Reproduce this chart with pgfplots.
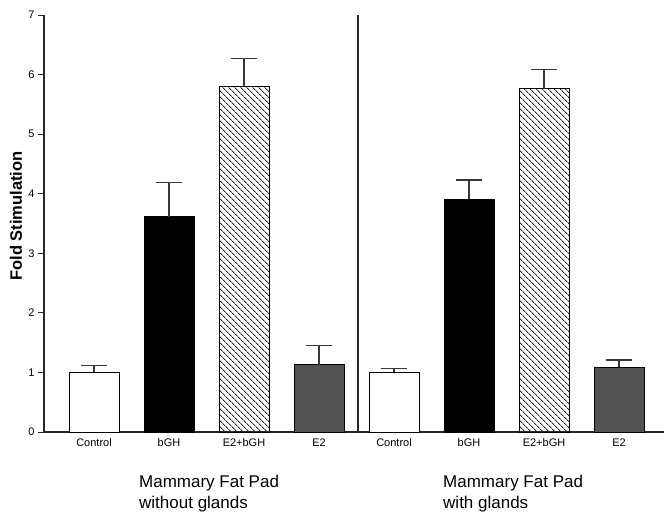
\documentclass[border=0pt]{standalone}
\usepackage{fontspec}
\setmainfont{Liberation Sans}
\usepackage{pgfplots}
\pgfplotsset{compat=1.18}
\usetikzlibrary{patterns.meta}
\definecolor{egray}{RGB}{82,82,82}
\definecolor{errc}{RGB}{55,55,55}
\pgfplotsset{
  mybar/.style={ybar, bar width=0.6667, bar shift=0pt, draw=black, line width=1pt,
    error bars/y dir=plus, error bars/y explicit,
    error bars/error bar style={line width=1.2pt, errc},
    error bars/error mark options={rotate=90, mark size=13pt, line width=1.2pt, errc}},
}
\begin{document}
\begin{tikzpicture}
\path[use as bounding box] (-44pt,-80pt) rectangle (620pt,432pt);
\begin{axis}[
 at={(0pt,0pt)}, anchor=south west,
 scale only axis, width=620pt, height=417pt,
 xmin=0.3333, xmax=8.6, ymin=0, ymax=7,
 axis x line=bottom, axis y line=left,
 axis line style={-, line width=1.1pt, black!85},
 ytick={0,...,7},
 xtick={1,...,8},
 xticklabels={Control,bGH,E2+bGH,E2,Control,bGH,E2+bGH,E2},
 x tick style={draw=none},
 y tick style={line width=1pt, black!85},
 tick align=outside, major tick length=6pt,
 /pgf/number format/assume math mode=true,
 tick label style={font=\fontsize{11}{13}\selectfont},
 xticklabel style={yshift=3pt},
 ylabel={Fold Stimulation},
 ylabel style={font=\fontsize{16.5}{18}\selectfont\bfseries, at={(axis description cs:-0.045,0.518)}, anchor=center},
 clip=false,
]
\addplot[mybar, fill=white] coordinates {(1,1.0) +- (0,0.11) (5,1.0) +- (0,0.06)};
\addplot[mybar, fill=black] coordinates {(2,3.61) +- (0,0.58) (6,3.91) +- (0,0.32)};
\addplot[mybar, fill=white, pattern={Lines[angle=-45,distance=4pt,line width=0.9pt]}, pattern color=black!85] coordinates {(3,5.80) +- (0,0.47) (7,5.76) +- (0,0.33)};
\addplot[mybar, fill=egray] coordinates {(4,1.13) +- (0,0.32) (8,1.09) +- (0,0.12)};
\addplot[sharp plot, no marks, black!85, line width=1.1pt] coordinates {(4.52,0) (4.52,7)};
\end{axis}
\tikzset{grp/.style={anchor=base west, inner sep=0pt, font=\fontsize{17}{20}\selectfont}}
\node[grp] at (95pt,-55pt) {Mammary Fat Pad};
\node[grp] at (95pt,-76pt) {without glands};
\node[grp] at (399pt,-55pt) {Mammary Fat Pad};
\node[grp] at (399pt,-76pt) {with glands};
\end{tikzpicture}
\end{document}
